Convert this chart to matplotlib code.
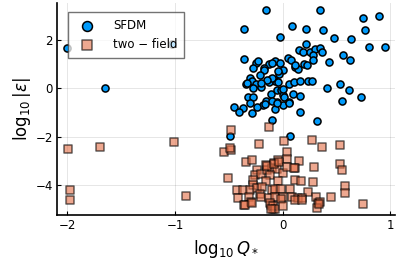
import numpy as np
import matplotlib
matplotlib.use("Agg")
import matplotlib.pyplot as plt

plt.rcParams['font.family'] = ['DejaVu Sans']
plt.rcParams['mathtext.fontset'] = 'dejavusans'

# SFDM: log10 Q*, log10 |eps|
sfdm_x = [-2.00, -1.03, -1.65,
          -0.15, 0.35, 0.75, 0.90, -0.36, 0.09, 0.22, 0.38, 0.77,
          -0.02, 0.48, 0.64, 0.80, 0.95, 0.22, 0.15, 0.19, 0.26, 0.30, 0.35, 0.37,
          0.28, 0.56, 0.63, 0.43, -0.36, -0.25, -0.23, -0.07, -0.02, 0.05, 0.08,
          -0.13, 0.20, 0.23, 0.28, 0.12, -0.27, -0.17, -0.17, -0.21, 0.00, -0.03, 0.14,
          -0.11, -0.07, -0.13, -0.30, -0.28, -0.34, -0.25, -0.20,
          0.06, 0.11, 0.16, 0.24, 0.27, 0.41, 0.53, 0.62, 0.73, 0.55,
          -0.32, -0.27, -0.11, -0.05, -0.01, 0.00, 0.01, 0.10, 0.16,
          -0.15, -0.18, -0.24, -0.37, -0.45, -0.05, 0.00, 0.06, -0.07, 0.16, -0.28,
          -0.40, -0.30, -0.16, -0.10, -0.05, 0.06,
          -0.10, 0.32, 0.07, -0.49,
          -0.10, 0.12, -0.04, -0.10, -0.14, -0.20, -0.33, -0.27, -0.04, 0.00]
sfdm_y = [1.65, 1.82, 0.00,
          3.21, 3.22, 2.89, 2.99, 2.45, 2.55, 2.44, 2.41, 2.40,
          2.11, 2.07, 2.01, 1.68, 1.68, 1.83, 1.58, 1.49, 1.51, 1.61, 1.65, 1.51,
          1.38, 1.38, 1.17, 1.07, 1.20, 1.03, 1.14, 1.13, 1.03, 1.24, 1.16,
          0.99, 1.00, 0.96, 1.17, 0.89, 0.83, 0.83, 0.76, 0.55, 0.76, 0.59, 0.78,
          0.38, 0.31, 0.25, 0.41, 0.31, 0.18, 0.18, 0.04,
          0.18, 0.27, 0.30, 0.31, 0.31, 0.00, 0.17, -0.07, -0.37, -0.55,
          -0.35, -0.37, -0.24, -0.07, -0.07, -0.28, -0.37, -0.24, -0.31,
          -0.55, -0.69, -0.79, -0.83, -0.79, -0.58, -0.69, -0.58, -0.86, -0.97, -1.03,
          -0.99, -0.62, -0.65, -0.55, -0.62, -0.60,
          -1.31, -1.35, -1.97, -1.97,
          1.03, 0.96, 0.69, 0.41, 0.34, 0.21, 0.21, 0.00, 0.27, -0.04]

# two-field
tf_x = [-1.99, -1.70, -1.01, -1.98, -1.98, -0.90,
        -0.48, -0.13, -0.22, 0.01, -0.54, -0.48, -0.49,
        0.27, 0.37, 0.53, 0.04, 0.04,
        -0.34, -0.28, -0.04, 0.15, -0.15, -0.08,
        0.12, 0.29, 0.53, 0.55,
        -0.24, -0.26, -0.20, -0.14, -0.10, -0.05, 0.00,
        -0.51, -0.12, -0.27, -0.15, -0.04, 0.12, 0.17, 0.28,
        0.58, -0.27, -0.42, -0.37, -0.30, -0.24, -0.19,
        -0.10, -0.07, -0.01, 0.07, 0.24, 0.58,
        -0.41, -0.31, -0.21, -0.20, -0.13, -0.07, 0.00, -0.01,
        0.09, 0.14, 0.18, 0.31, 0.33, 0.35, 0.45,
        -0.36, -0.29, -0.11, -0.09, 0.32, 0.75,
        -0.12, -0.09, -0.07, -0.11, 0.00, 0.12, 0.18, -0.35, -0.28, 0.34,
        -0.14, -0.08, -0.03, 0.04, 0.11]
tf_y = [-2.51, -2.44, -2.22, -4.23, -4.62, -4.45,
        -1.75, -1.61, -2.31, -2.17, -2.66, -2.55, -2.49,
        -2.14, -2.45, -2.34, -2.64, -2.93,
        -3.06, -2.99, -2.96, -3.03, -3.17, -3.10,
        -3.31, -3.24, -3.13, -3.40,
        -3.38, -3.58, -3.54, -3.38, -3.31, -3.33, -3.49,
        -3.72, -3.58, -3.79, -3.82, -3.83, -3.79, -3.83, -3.86,
        -4.04, -4.00, -4.23, -4.23, -4.20, -4.13, -4.09,
        -4.20, -4.17, -4.17, -4.17, -4.31, -4.34,
        -4.55, -4.48, -4.37, -4.51, -4.55, -4.48, -4.48, -4.58,
        -4.48, -4.53, -4.53, -4.48, -4.75, -4.69, -4.48,
        -4.82, -4.69, -4.82, -5.00, -4.96, -4.78,
        -4.75, -4.89, -5.00, -5.00, -4.89, -4.62, -4.62, -4.85, -4.73, -4.78,
        -3.20, -3.15, -3.05, -3.25, -3.30]

blue = '#009AFA'
orange = '#E36F47'

fig = plt.figure(figsize=(3.99, 2.66), dpi=100)
ax = fig.add_axes([0.143, 0.192, 0.847, 0.797])

ax.scatter(sfdm_x, sfdm_y, s=26, marker='o', facecolor=blue, edgecolor='black',
           linewidth=1.1, label='SFDM', zorder=3)
ax.scatter(tf_x, tf_y, s=32, marker='s', facecolor=orange, edgecolor='black',
           linewidth=1.1, alpha=0.6, label='two − field', zorder=3)

ax.set_xlim(-2.096, 1.046)
ax.set_ylim(-5.24, 3.52)
ax.set_xticks([-2, -1, 0, 1])
ax.set_yticks([2, 0, -2, -4])
ax.set_xticklabels(['−2', '−1', '0', '1'])
ax.set_yticklabels(['2', '0', '−2', '−4'])
ax.tick_params(direction='in', length=3, width=0.8, labelsize=8.5, pad=3)

ax.grid(True, color='black', alpha=0.1, linewidth=0.7)
ax.set_axisbelow(True)
for side in ['top', 'right']:
    ax.spines[side].set_visible(False)
for side in ['left', 'bottom']:
    ax.spines[side].set_linewidth(1.2)

ax.set_xlabel(r'$\log_{10}Q_*$', fontsize=12, labelpad=4)
ax.set_ylabel(r'$\log_{10}|\varepsilon|$', fontsize=12, labelpad=2)

leg = ax.legend(loc='upper left', fontsize=8.5, markerscale=1.4, frameon=True,
                fancybox=False, framealpha=0.75, edgecolor='#444444',
                borderpad=0.6, handletextpad=1.2, labelspacing=0.5,
                bbox_to_anchor=(0.015, 0.985))
leg.get_frame().set_linewidth(1.0)

fig.savefig('out.png', dpi=100)
